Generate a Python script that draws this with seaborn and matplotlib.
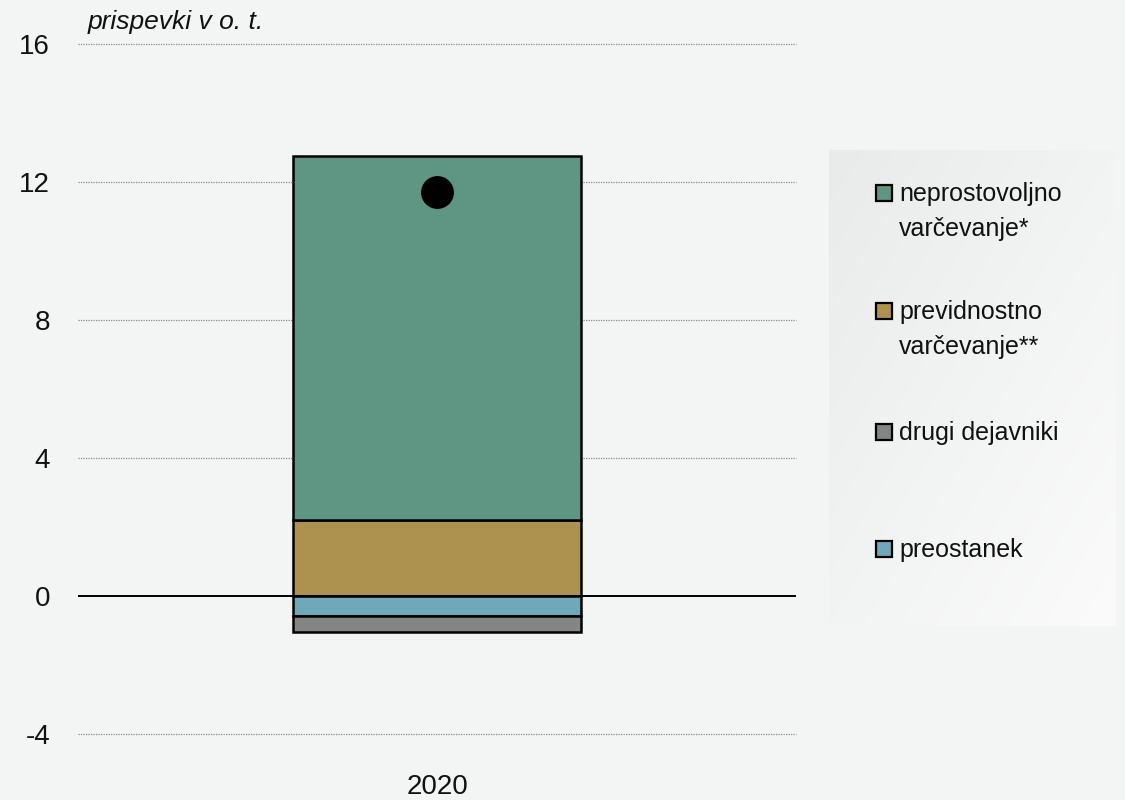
import matplotlib
matplotlib.use("Agg")
import matplotlib.pyplot as plt
import seaborn as sns
import pandas as pd
import numpy as np
from matplotlib.patches import Rectangle
from matplotlib.colors import LinearSegmentedColormap
from matplotlib import font_manager

# ---- data ----
years = ["2020"]
neprostovoljno = [10.55]
previdnostno = [2.2]
drugi = [-0.46]
preostanek = [-0.58]
skupaj = [11.72]

labels = ["neprostovoljno\nvarčevanje*", "previdnostno\nvarčevanje**",
          "drugi dejavniki", "preostanek"]
colors = ["#5f9683", "#ad914f", "#858585", "#6fa8bb"]

sns.set_theme(style="white")
avail = {f.name for f in font_manager.fontManager.ttflist}
fam = "Liberation Sans Narrow" if "Liberation Sans Narrow" in avail else "Liberation Sans"
plt.rcParams["font.family"] = [fam, "DejaVu Sans"]

bg = "#f3f5f5"
fig = plt.figure(figsize=(11.25, 8), dpi=100, facecolor=bg)
ax = fig.add_axes([78/1125, 66/800, (796-78)/1125, (734-44)/800])
ax.set_facecolor(bg)

df = pd.DataFrame({"year": years, "nep": neprostovoljno, "prev": previdnostno,
                   "drugi": drugi, "pre": preostanek, "tot": skupaj})

kw = dict(edgecolor="black", linewidth=1.8, width=0.8, ax=ax, zorder=3, saturation=1)
sns.barplot(data=df, x="year", y="prev", color=colors[1], **kw)
sns.barplot(data=df, x="year", y="nep", bottom=df["prev"], color=colors[0], **kw)
sns.barplot(data=df, x="year", y="pre", color=colors[3], **kw)
sns.barplot(data=df, x="year", y="drugi", bottom=df["pre"], color=colors[2], **kw)
sns.scatterplot(data=df, x="year", y="tot", color="black", s=560, ax=ax,
                zorder=5, edgecolor="black", linewidth=0)

ax.set_xlim(-1, 1)
ax.set_ylim(-4, 16)
ax.set_yticks([-4, 0, 4, 8, 12, 16])
ax.set_yticklabels(["-4", "0", "4", "8", "12", "16"])
for y in [-4, 4, 8, 12, 16]:
    ax.axhline(y, color="#8a8a8a", linewidth=0.9, linestyle=(0, (1, 1)),
               zorder=1, clip_on=False)
ax.axhline(0, color="black", linewidth=1.4, zorder=4)
for s in ax.spines.values():
    s.set_visible(False)
ax.tick_params(axis="y", length=0, pad=20, labelsize=20, labelcolor="#111111")
ax.tick_params(axis="x", length=0, pad=29, labelsize=20, labelcolor="#111111")
ax.set_xlabel("")
ax.set_ylabel("")

fig.text(88/1125, 1 - 22/800, "prispevki v o. t.", fontsize=19, style="italic",
         ha="left", va="center", color="#111111")

# legend box with soft gradient
lax = fig.add_axes([829/1125, 1 - 626/800, (1116-829)/1125, (626-150)/800], zorder=-1)
gx, gy = np.meshgrid(np.linspace(0, 1, 200), np.linspace(0, 1, 200))
grad = np.clip((gx + gy) / 2, 0, 1)
cm = LinearSegmentedColormap.from_list("g", ["#e9ebeb", "#fbfbfb"])
lax.imshow(grad, cmap=cm, aspect="auto", extent=(0, 1, 0, 1), origin="upper")
lax.set_axis_off()

entries = [(labels[0], colors[0], 193), (labels[1], colors[1], 311),
           (labels[2], colors[2], 432), (labels[3], colors[3], 549)]
for lab, col, yc in entries:
    fig.patches.append(Rectangle((876/1125, 1 - (yc + 8)/800), 16/1125, 16/800,
                                 transform=fig.transFigure, facecolor=col,
                                 edgecolor="black", linewidth=1.6, zorder=2))
    fig.text(899/1125, 1 - (yc - 11)/800, lab, fontsize=18, ha="left", va="top",
             color="#111111", linespacing=1.6)

fig.savefig("out.png", dpi=100, facecolor=bg)
